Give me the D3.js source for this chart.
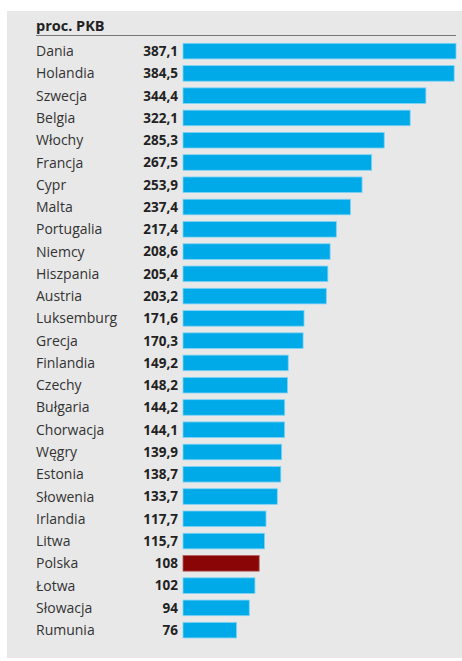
<!DOCTYPE html>
<html>
<head>
<meta charset="utf-8">
<script src="https://cdn.jsdelivr.net/npm/d3@7"></script>
<style>
  body { margin: 0; background: #fff; }
  svg { display: block; }
</style>
</head>
<body>
<div id="chart"></div>
<script>
var countries = ["Dania", "Holandia", "Szwecja", "Belgia", "Włochy", "Francja", "Cypr", "Malta",
    "Portugalia", "Niemcy", "Hiszpania", "Austria", "Luksemburg", "Grecja", "Finlandia", "Czechy",
    "Bułgaria", "Chorwacja", "Węgry", "Estonia", "Słowenia", "Irlandia", "Litwa", "Polska",
    "Łotwa", "Słowacja", "Rumunia"];
var values = [387.1, 384.5, 344.4, 322.1, 285.3, 267.5, 253.9, 237.4, 217.4, 208.6, 205.4, 203.2,
    171.6, 170.3, 149.2, 148.2, 144.2, 144.1, 139.9, 138.7, 133.7, 117.7, 115.7, 108, 102, 94, 76];
var highlight = "Polska";
var title = "proc. PKB";

var width = 462, height = 661;
var barLeft = 183, barRight = 456;
var step = 22.27;

var svg = d3.select("#chart").append("svg")
    .attr("width", width)
    .attr("height", height);

// gray panel
svg.append("rect")
    .attr("x", 7).attr("y", 11)
    .attr("width", width - 7).attr("height", 647)
    .attr("fill", "#e8e8e8");

svg.append("text")
    .attr("x", 36).attr("y", 31)
    .attr("font-family", "Open Sans, sans-serif")
    .attr("font-weight", "bold")
    .attr("font-size", 14.5)
    .attr("fill", "#222")
    .text(title);

svg.append("line")
    .attr("x1", 36).attr("x2", 456)
    .attr("y1", 35.5).attr("y2", 35.5)
    .attr("stroke", "#777").attr("stroke-width", 1);

var data = countries.map(function (c, i) { return { name: c, value: values[i] }; });

var x = d3.scaleLinear()
    .domain([0, d3.max(values)])
    .range([barLeft, barRight]);

var y = d3.scaleBand()
    .domain(countries)
    .range([40, 40 + step * countries.length])
    .paddingInner(0.3)
    .paddingOuter(0.15);

var rows = svg.append("g").selectAll("g")
    .data(data)
    .enter().append("g");

rows.append("rect")
    .attr("x", x(0))
    .attr("y", function (d) { return y(d.name); })
    .attr("width", function (d) { return x(d.value) - x(0); })
    .attr("height", y.bandwidth())
    .attr("fill", function (d) { return d.name === highlight ? "#8a0505" : "#00a9e8"; })
    .attr("stroke", function (d) { return d.name === highlight ? "#b06060" : "#7fd4f4"; })
    .attr("stroke-width", 0.8);

rows.append("text")
    .attr("x", 36)
    .attr("y", function (d) { return y(d.name) + y.bandwidth() / 2; })
    .attr("dy", "0.36em")
    .attr("font-family", "Open Sans, sans-serif")
    .attr("font-size", 14)
    .attr("fill", "#333")
    .text(function (d) { return d.name; });

rows.append("text")
    .attr("x", 178)
    .attr("y", function (d) { return y(d.name) + y.bandwidth() / 2; })
    .attr("dy", "0.36em")
    .attr("text-anchor", "end")
    .attr("font-family", "Open Sans, sans-serif")
    .attr("font-weight", "bold")
    .attr("font-size", 13.5)
    .attr("fill", "#222")
    .text(function (d) { return String(d.value).replace(".", ","); });
</script>
</body>
</html>
